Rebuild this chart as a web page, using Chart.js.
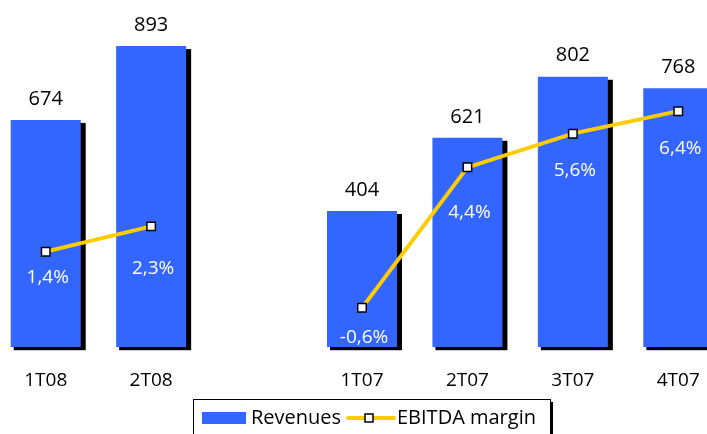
<!DOCTYPE html>
<html>
<head>
<meta charset="utf-8">
<script src="https://cdn.jsdelivr.net/npm/chart.js@4.4.1/dist/chart.umd.min.js"></script>
<style>
  html, body { margin: 0; padding: 0; background: #fff; overflow: hidden; width: 707px; height: 434px; }
  #myChart { position: absolute; left: -7px; top: 0; }
</style>
</head>
<body>
<canvas id="myChart" width="738" height="434"></canvas>
<script>
// chart values
var quarters = ['1T08', '2T08', '', '1T07', '2T07', '3T07', '4T07'];
var revenues = [674, 893, null, 404, 621, 802, 768];
var ebitdaMargin = [1.4, 2.3, null, -0.6, 4.4, 5.6, 6.4];

var FONT = 'Open Sans';
var BLUE = '#3366FF';
var GOLD = '#FFCC00';

function fmtPct(v) {
    return v.toFixed(1).replace('.', ',') + '%';
}

// black drop shadow behind the bars
var barShadow = {
    id: 'barShadow',
    beforeDatasetDraw: function (chart, args) {
        if (args.index !== 0) return;
        var ctx = chart.ctx;
        var meta = chart.getDatasetMeta(0);
        ctx.save();
        ctx.fillStyle = '#000';
        meta.data.forEach(function (bar, i) {
            if (revenues[i] == null) return;
            var left = bar.x - bar.width / 2;
            var right = bar.x + bar.width / 2;
            ctx.fillRect(left + 3, bar.y + 3, right - left + 2, bar.base - bar.y);
        });
        ctx.restore();
    }
};

// value labels + legend box
var labels = {
    id: 'labels',
    afterDatasetsDraw: function (chart) {
        var ctx = chart.ctx;
        ctx.save();
        ctx.textAlign = 'center';
        ctx.textBaseline = 'middle';
        ctx.font = '20px "' + FONT + '"';

        ctx.fillStyle = '#000';
        chart.getDatasetMeta(0).data.forEach(function (bar, i) {
            if (revenues[i] == null) return;
            ctx.fillText(String(revenues[i]), bar.x, bar.y - 21);
        });

        var drop = [26, 42, 0, 30, 45, 37, 37];
        ctx.fillStyle = '#fff';
        ctx.font = '19px "' + FONT + '"';
        chart.getDatasetMeta(1).data.forEach(function (pt, i) {
            if (ebitdaMargin[i] == null) return;
            ctx.fillText(fmtPct(ebitdaMargin[i]), pt.x + 2, pt.y + drop[i]);
        });
        ctx.restore();
    },
    afterDraw: function (chart) {
        var ctx = chart.ctx;
        var ox = 7; // canvas is shifted left by 7px
        var bx = 193 + ox, by = 399, bw = 357, bh = 45;
        ctx.save();
        ctx.fillStyle = '#000';
        ctx.fillRect(bx + 3, by + 3, bw, bh);
        ctx.fillStyle = '#fff';
        ctx.fillRect(bx, by, bw, bh);
        ctx.strokeStyle = '#000';
        ctx.lineWidth = 1;
        ctx.strokeRect(bx + 0.5, by + 0.5, bw, bh);

        var ds = chart.data.datasets;
        ctx.fillStyle = ds[0].backgroundColor;
        ctx.fillRect(202 + ox, 412, 44, 12);

        ctx.font = '20px "' + FONT + '"';
        ctx.textBaseline = 'middle';
        ctx.textAlign = 'left';
        ctx.fillStyle = '#000';
        ctx.fillText(ds[0].label, 251 + ox, 418);

        ctx.strokeStyle = ds[1].borderColor;
        ctx.lineWidth = 4;
        ctx.lineCap = 'round';
        ctx.beginPath();
        ctx.moveTo(348 + ox, 418);
        ctx.lineTo(394 + ox, 418);
        ctx.stroke();
        ctx.fillStyle = '#fff';
        ctx.strokeStyle = '#000';
        ctx.lineWidth = 1.5;
        ctx.fillRect(365 + ox, 414, 8, 8);
        ctx.strokeRect(365 + ox, 414, 8, 8);

        ctx.fillStyle = '#000';
        ctx.fillText(ds[1].label, 397 + ox, 418);
        ctx.restore();
    }
};

var ctx = document.getElementById('myChart').getContext('2d');
var myChart = new Chart(ctx, {
    type: 'bar',
    data: {
        labels: quarters,
        datasets: [{
            label: 'Revenues',
            data: revenues,
            backgroundColor: BLUE,
            borderWidth: 0,
            barPercentage: 0.664,
            categoryPercentage: 1,
            yAxisID: 'y',
            order: 1
        },
        {
            type: 'line',
            label: 'EBITDA margin',
            data: ebitdaMargin,
            borderColor: GOLD,
            borderWidth: 4,
            pointStyle: 'rect',
            pointRadius: 6,
            pointBackgroundColor: '#fff',
            pointBorderColor: '#000',
            pointBorderWidth: 1.5,
            spanGaps: false,
            tension: 0,
            yAxisID: 'y2',
            order: 0
        }]
    },
    options: {
        responsive: false,
        animation: false,
        devicePixelRatio: 1,
        layout: { autoPadding: false, padding: { top: 10, bottom: 20, left: 0, right: 0 } },
        plugins: {
            legend: { display: false },
            tooltip: { enabled: false }
        },
        scales: {
            x: {
                grid: { display: false, drawTicks: false },
                border: { display: false },
                ticks: {
                    color: '#000',
                    padding: 22,
                    font: { family: FONT, size: 19 }
                }
            },
            y: {
                display: false,
                min: 0,
                max: 1000
            },
            y2: {
                display: false,
                position: 'right',
                min: -2,
                max: 10
            }
        }
    },
    plugins: [barShadow, labels]
});
</script>
</body>
</html>
